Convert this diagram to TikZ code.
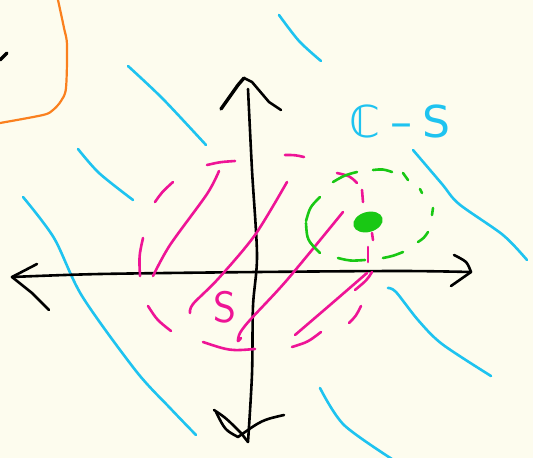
\documentclass[tikz,border=0pt]{standalone}
\usepackage{fontspec}
\usepackage{tikz}
\usetikzlibrary{calc}
\newfontfamily\labelfont{DejaVu Sans}
\definecolor{paper}{RGB}{253,252,238}
\definecolor{skyblue}{RGB}{30,195,240}
\definecolor{hotpink}{RGB}{238,20,150}
\definecolor{leafgreen}{RGB}{25,200,20}
\definecolor{peach}{RGB}{250,128,30}

\begin{document}
\begin{tikzpicture}[x=1pt, y=-1pt, line cap=round, line join=round,
    pen/.style={line width=2.6pt},
    axisline/.style={pen, black},
    fieldline/.style={pen, skyblue},
    hatchline/.style={pen, hotpink},
    haloline/.style={pen, leafgreen}]

  \fill[paper] (0,0) rectangle (533,458);
  \useasboundingbox (0,0) rectangle (533,458);

  % corner scribbles
  \draw[pen, peach, line width=2.2pt] plot[smooth] coordinates {(58,0) (64,28) (67,45) (66,88) (61,101) (53,110) (43,115) (0,123)};
  \draw[axisline, line width=3.2pt] (0,60) -- (7,53);

  % blue field lines
  \draw[fieldline] plot[smooth] coordinates {(279,15) (299,41) (321,61)};
  \draw[fieldline] plot[smooth] coordinates {(128,66) (163,99) (206,145)};
  \draw[fieldline] plot[smooth] coordinates {(78,149) (99,173) (133,200)};
  \draw[fieldline] plot[smooth] coordinates {(23,197) (54,238) (82,296) (136,371) (170,408) (196,435)};
  \draw[fieldline] plot[smooth] coordinates {(413,150) (442,184) (459,204) (503,235) (527,260)};
  \draw[fieldline] plot[smooth] coordinates {(388,288) (396,292) (418,320) (442,344) (491,376)};
  \draw[fieldline] plot[smooth] coordinates {(320,388) (344,425) (395,461)};

  % axes
  \coordinate (west) at (12,277);
  \coordinate (east) at (471,272);
  \coordinate (north) at (244,78);
  \coordinate (south) at (248,442);
  \draw[axisline] plot[smooth] coordinates {(12,277) (100,274) (257,272) (400,271) (471,272)};
  \draw[axisline] (37,264) -- (west) -- (32,293) -- (49,310);
  \draw[axisline] plot[smooth] coordinates {(454,255) (466,262) (471,272)} -- (451,286);
  \draw[axisline] plot[smooth] coordinates {(248,89) (252,170) (257,255) (253,306) (252,374) (248,442)};
  \draw[axisline, line width=3.4pt] (221,109) -- (238,85) -- (north);
  \draw[axisline] (north) -- (252,82) -- (269,102) -- (281,110);
  \draw[axisline] (214,410) .. controls (226,418) .. (241,433) -- (south);
  \draw[axisline] (284,415) .. controls (262,420) .. (238,437) .. controls (225,430) .. (216,412);

  % pink set S: dashed outline
  \foreach \p/\q/\r in {{207,165}/{220,162}/{235,161}, {285,155}/{295,155}/{304,157},
      {155,202}/{162,192}/{173,182}, {143,238}/{139,256}/{140,276},
      {148,306}/{157,320}/{171,331}, {203,342}/{230,351}/{255,349},
      {292,347}/{308,342}/{321,332}, {349,323}/{356,316}/{361,306},
      {355,290}/{367,280}/{372,272}, {337,173}/{350,176}/{357,183},
      {362,190}/{363,196}/{363,202}, {372,233}/{373,237}/{373,240},
      {368,247}/{368,255}/{368,262}}
    \draw[hatchline] (\p) .. controls (\q) .. (\r);

  % pink hatching
  \draw[hatchline] plot[smooth] coordinates {(219,171) (207,194) (170,245) (153,276)};
  \draw[hatchline] plot[smooth] coordinates {(287,182) (255,235) (218,279) (193,304) (190,313)};
  \draw[hatchline] plot[smooth] coordinates {(343,212) (287,280) (250,320) (240,333) (238,341) (241,338)};
  \draw[hatchline] plot[smooth] coordinates {(367,273) (330,305) (295,335)};

  % green dashed neighbourhood
  \foreach \p/\q/\r in {{333,182}/{345,175}/{357,172}, {373,170}/{383,169}/{392,172},
      {403,173}/{406,176}/{408,180}, {420,189}/{421,191}/{422,193},
      {433,208}/{433,212}/{432,215}, {428,232}/{424,238}/{418,242},
      {403,252}/{393,256}/{383,258}, {365,260}/{350,261}/{338,258},
      {320,253}/{307,240}/{306,223}, {306,221}/{310,207}/{320,197}}
    \draw[haloline] (\p) .. controls (\q) .. (\r);
  \fill[leafgreen, rotate around={15:(368,222)}] (368,222) ellipse [x radius=15pt, y radius=10pt];

  % labels
  \node[skyblue, font=\fontsize{44}{44}\selectfont\labelfont, inner sep=0pt] (fieldlabel) at (400,121) {ℂ\hspace{10pt}–\hspace{10pt}S};
  \node[hotpink, font=\fontsize{44}{44}\selectfont\sffamily] (setlabel) at (225,307) {S};

\end{tikzpicture}
\end{document}
